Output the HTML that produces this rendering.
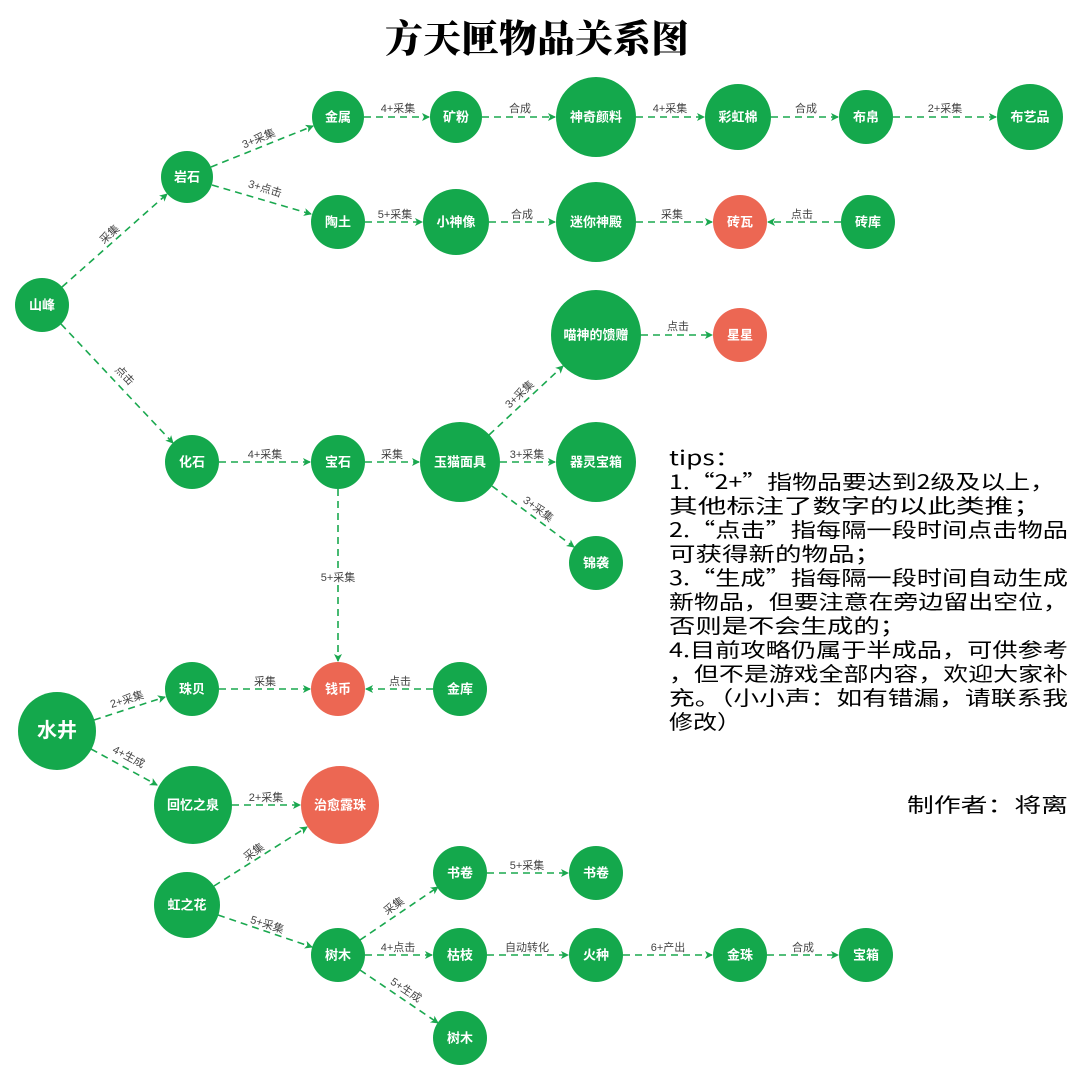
<!DOCTYPE html>
<html><head><meta charset="utf-8">
<style>
html,body{margin:0;padding:0;background:#fff;}
svg{display:block;}
.n{font-family:"Liberation Sans","Noto Sans CJK SC",sans-serif;font-weight:bold;fill:#fff;text-anchor:middle;dominant-baseline:central;font-size:13px;}
.l{font-family:"Liberation Sans","Noto Sans CJK SC",sans-serif;fill:#444;font-size:11px;text-anchor:middle;}
.e{stroke:#1aa84f;stroke-width:1.6;stroke-dasharray:7,5;fill:none;marker-end:url(#a);}
.t{font-family:"WenQuanYi Zen Hei","Noto Sans CJK SC",sans-serif;font-size:20px;fill:#000;}
</style></head><body>
<svg width="1080" height="1082" viewBox="0 0 1080 1082" xmlns="http://www.w3.org/2000/svg">
<defs><marker id="a" markerWidth="10" markerHeight="10" refX="8" refY="5" orient="auto" markerUnits="userSpaceOnUse"><path d="M1,1 L9,5 L1,9 L3,5 Z" fill="#1aa84f"/></marker></defs>
<text x="537" y="52" text-anchor="middle" font-family="'Noto Serif CJK SC','Noto Sans CJK SC',serif" font-weight="900" font-size="38" fill="#000">方天匣物品关系图</text>

<g>
<line class="e" x1="62" y1="287" x2="167" y2="194"/>
<line class="e" x1="61" y1="324" x2="173" y2="443"/>
<line class="e" x1="211" y1="167" x2="313" y2="126"/>
<line class="e" x1="212" y1="185" x2="311" y2="214"/>
<line class="e" x1="364" y1="117" x2="429" y2="117"/>
<line class="e" x1="482" y1="117" x2="555" y2="117"/>
<line class="e" x1="636" y1="117" x2="704" y2="117"/>
<line class="e" x1="771" y1="117" x2="838" y2="117"/>
<line class="e" x1="893" y1="117" x2="996" y2="117"/>
<line class="e" x1="365" y1="222" x2="422" y2="222"/>
<line class="e" x1="489" y1="222" x2="555" y2="222"/>
<line class="e" x1="636" y1="222" x2="712" y2="222"/>
<line class="e" x1="841" y1="222" x2="768" y2="222"/>
<line class="e" x1="641" y1="335" x2="712" y2="335"/>
<line class="e" x1="219" y1="462" x2="310" y2="462"/>
<line class="e" x1="365" y1="462" x2="419" y2="462"/>
<line class="e" x1="500" y1="462" x2="555" y2="462"/>
<line class="e" x1="489" y1="435" x2="563" y2="366"/>
<line class="e" x1="492" y1="486" x2="574" y2="547"/>
<line class="e" x1="338" y1="489" x2="338" y2="661"/>
<line class="e" x1="219" y1="689" x2="310" y2="689"/>
<line class="e" x1="433" y1="689" x2="366" y2="689"/>
<line class="e" x1="94" y1="720" x2="165" y2="697"/>
<line class="e" x1="91" y1="749" x2="157" y2="785"/>
<line class="e" x1="232" y1="805" x2="300" y2="805"/>
<line class="e" x1="214" y1="886" x2="307" y2="827"/>
<line class="e" x1="218" y1="915" x2="312" y2="947"/>
<line class="e" x1="360" y1="940" x2="438" y2="887"/>
<line class="e" x1="365" y1="955" x2="432" y2="955"/>
<line class="e" x1="360" y1="970" x2="438" y2="1023"/>
<line class="e" x1="487" y1="873" x2="568" y2="873"/>
<line class="e" x1="487" y1="955" x2="568" y2="955"/>
<line class="e" x1="623" y1="955" x2="712" y2="955"/>
<line class="e" x1="767" y1="955" x2="838" y2="955"/>
</g>

<g>
<text class="l" transform="translate(112,237) rotate(-42)">采集</text>
<text class="l" transform="translate(122,378) rotate(46)">点击</text>
<text class="l" transform="translate(260,142) rotate(-22)">3+采集</text>
<text class="l" transform="translate(264,192) rotate(17)">3+点击</text>
<text class="l" x="398" y="112">4+采集</text>
<text class="l" x="520" y="112">合成</text>
<text class="l" x="670" y="112">4+采集</text>
<text class="l" x="806" y="112">合成</text>
<text class="l" x="945" y="112">2+采集</text>
<text class="l" x="395" y="218">5+采集</text>
<text class="l" x="522" y="218">合成</text>
<text class="l" x="672" y="218">采集</text>
<text class="l" x="802" y="218">点击</text>
<text class="l" x="678" y="330">点击</text>
<text class="l" x="265" y="458">4+采集</text>
<text class="l" x="392" y="458">采集</text>
<text class="l" x="527" y="458">3+采集</text>
<text class="l" transform="translate(522,397) rotate(-43)">3+采集</text>
<text class="l" transform="translate(536,512) rotate(37)">3+采集</text>
<rect x="314" y="570" width="48" height="14" fill="#fff"/>
<text class="l" x="338" y="581">5+采集</text>
<text class="l" x="265" y="685">采集</text>
<text class="l" x="400" y="685">点击</text>
<text class="l" transform="translate(128,703) rotate(-17)">2+采集</text>
<text class="l" transform="translate(127,760) rotate(28)">4+生成</text>
<text class="l" x="266" y="801">2+采集</text>
<text class="l" transform="translate(256,855) rotate(-35)">采集</text>
<text class="l" transform="translate(266,928) rotate(18)">5+采集</text>
<text class="l" transform="translate(396,909) rotate(-35)">采集</text>
<text class="l" x="398" y="951">4+点击</text>
<text class="l" transform="translate(404,993) rotate(34)">5+生成</text>
<text class="l" x="527" y="869">5+采集</text>
<text class="l" x="527" y="951">自动转化</text>
<text class="l" x="668" y="951">6+产出</text>
<text class="l" x="803" y="951">合成</text>
</g>

<g fill="#14a84c">
<circle cx="42" cy="305" r="27"/>
<circle cx="187" cy="177" r="26"/>
<circle cx="338" cy="117" r="26"/>
<circle cx="456" cy="117" r="26"/>
<circle cx="596" cy="117" r="40"/>
<circle cx="738" cy="117" r="33"/>
<circle cx="866" cy="117" r="27"/>
<circle cx="1030" cy="117" r="33"/>
<circle cx="338" cy="222" r="27"/>
<circle cx="456" cy="222" r="33"/>
<circle cx="596" cy="222" r="40"/>
<circle cx="868" cy="222" r="27"/>
<circle cx="596" cy="335" r="45"/>
<circle cx="192" cy="462" r="27"/>
<circle cx="338" cy="462" r="27"/>
<circle cx="460" cy="462" r="40"/>
<circle cx="596" cy="462" r="40"/>
<circle cx="596" cy="563" r="27"/>
<circle cx="192" cy="689" r="27"/>
<circle cx="460" cy="689" r="27"/>
<circle cx="57" cy="731" r="39"/>
<circle cx="193" cy="805" r="39"/>
<circle cx="187" cy="905" r="33"/>
<circle cx="460" cy="873" r="27"/>
<circle cx="596" cy="873" r="27"/>
<circle cx="338" cy="955" r="27"/>
<circle cx="460" cy="955" r="27"/>
<circle cx="596" cy="955" r="27"/>
<circle cx="740" cy="955" r="27"/>
<circle cx="866" cy="955" r="27"/>
<circle cx="460" cy="1038" r="27"/>
</g>
<g fill="#ec6753">
<circle cx="740" cy="222" r="27"/>
<circle cx="740" cy="335" r="27"/>
<circle cx="338" cy="689" r="27"/>
<circle cx="340" cy="805" r="39"/>
</g>
<g>
<text class="n" x="42" y="305">山峰</text>
<text class="n" x="187" y="177">岩石</text>
<text class="n" x="338" y="117">金属</text>
<text class="n" x="456" y="117">矿粉</text>
<text class="n" x="596" y="117">神奇颜料</text>
<text class="n" x="738" y="117">彩虹棉</text>
<text class="n" x="866" y="117">布帛</text>
<text class="n" x="1030" y="117">布艺品</text>
<text class="n" x="338" y="222">陶土</text>
<text class="n" x="456" y="222">小神像</text>
<text class="n" x="596" y="222">迷你神殿</text>
<text class="n" x="740" y="222">砖瓦</text>
<text class="n" x="868" y="222">砖库</text>
<text class="n" x="596" y="335">喵神的馈赠</text>
<text class="n" x="740" y="335">星星</text>
<text class="n" x="192" y="462">化石</text>
<text class="n" x="338" y="462">宝石</text>
<text class="n" x="460" y="462">玉猫面具</text>
<text class="n" x="596" y="462">器灵宝箱</text>
<text class="n" x="596" y="563">锦袭</text>
<text class="n" x="192" y="689">珠贝</text>
<text class="n" x="338" y="689">钱币</text>
<text class="n" x="460" y="689">金库</text>
<text class="n" x="57" y="731" style="font-size:20px">水井</text>
<text class="n" x="193" y="805">回忆之泉</text>
<text class="n" x="340" y="805">治愈露珠</text>
<text class="n" x="187" y="905">虹之花</text>
<text class="n" x="460" y="873">书卷</text>
<text class="n" x="596" y="873">书卷</text>
<text class="n" x="338" y="955">树木</text>
<text class="n" x="460" y="955">枯枝</text>
<text class="n" x="596" y="955">火种</text>
<text class="n" x="740" y="955">金珠</text>
<text class="n" x="866" y="955">宝箱</text>
<text class="n" x="460" y="1038">树木</text>
</g>

<g class="t">
<text x="669" y="465" textLength="72" lengthAdjust="spacingAndGlyphs">tips：</text>
<text x="669" y="489" textLength="386" lengthAdjust="spacingAndGlyphs">1.“2+”指物品要达到2级及以上，</text>
<text x="669" y="513" textLength="373" lengthAdjust="spacingAndGlyphs">其他标注了数字的以此类推；</text>
<text x="669" y="537" textLength="399" lengthAdjust="spacingAndGlyphs">2.“点击”指每隔一段时间点击物品</text>
<text x="669" y="561" textLength="212" lengthAdjust="spacingAndGlyphs">可获得新的物品；</text>
<text x="669" y="585" textLength="399" lengthAdjust="spacingAndGlyphs">3.“生成”指每隔一段时间自动生成</text>
<text x="669" y="609" textLength="399" lengthAdjust="spacingAndGlyphs">新物品，但要注意在旁边留出空位，</text>
<text x="669" y="633" textLength="237" lengthAdjust="spacingAndGlyphs">否则是不会生成的；</text>
<text x="669" y="657" textLength="399" lengthAdjust="spacingAndGlyphs">4.目前攻略仍属于半成品，可供参考</text>
<text x="669" y="681" textLength="399" lengthAdjust="spacingAndGlyphs">，但不是游戏全部内容，欢迎大家补</text>
<text x="669" y="705" textLength="399" lengthAdjust="spacingAndGlyphs">充。（小小声：如有错漏，请联系我</text>
<text x="669" y="729" textLength="72" lengthAdjust="spacingAndGlyphs">修改）</text>
<text x="907" y="812" textLength="161" lengthAdjust="spacingAndGlyphs">制作者：将离</text>
</g>
</svg>
</body></html>
